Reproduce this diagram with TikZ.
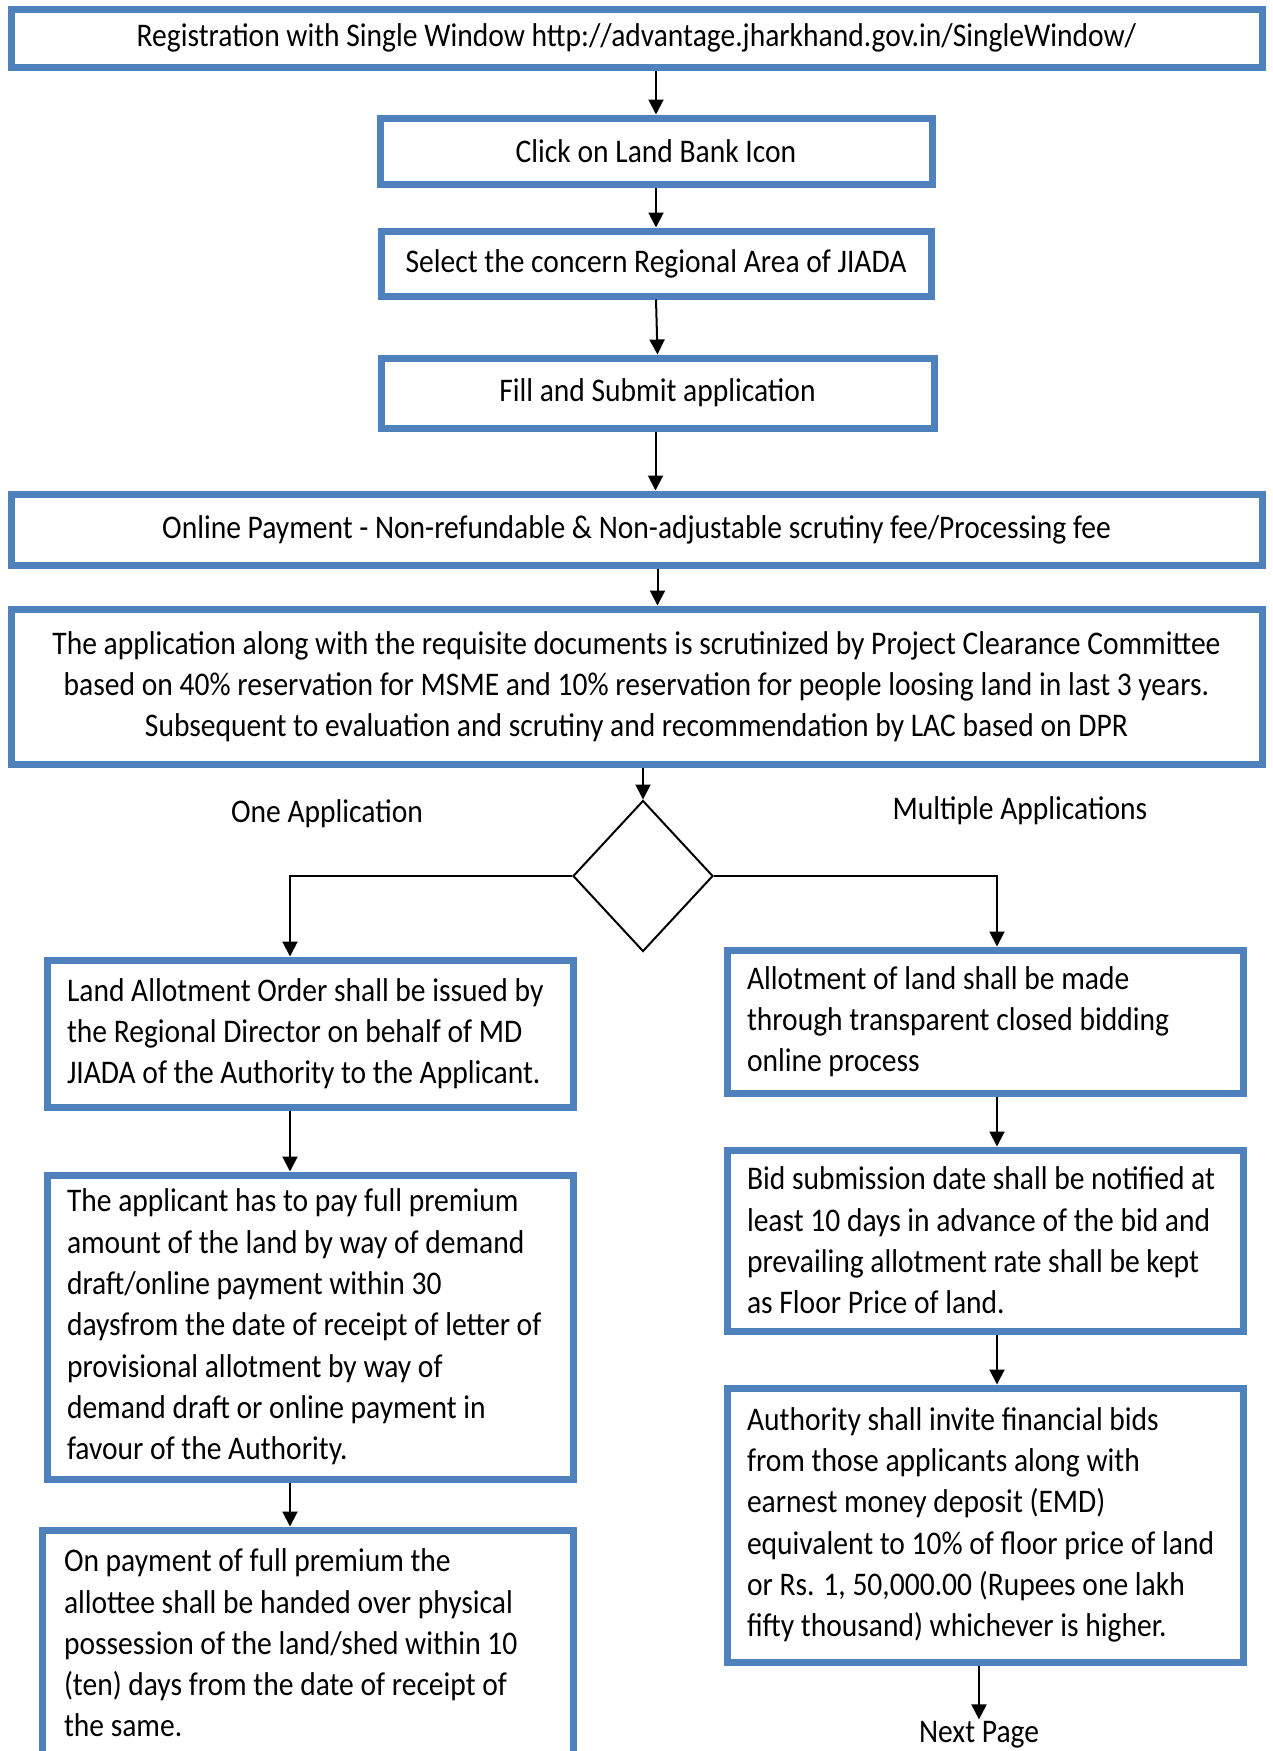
\documentclass[tikz,border=0pt]{standalone}
\usepackage{fontspec}
\setmainfont{Carlito}[FakeStretch=0.895]
\usepackage{tikz}
\usetikzlibrary{shapes, arrows.meta, positioning}
\usepackage{xcolor}
\definecolor{boxblue}{HTML}{4F81BD}

\begin{document}
\begin{tikzpicture}[x=1pt, y=-1pt]
        % Define block styles
        \tikzstyle{flowtext} = [font=\fontsize{33}{41.3}\selectfont]
        \tikzstyle{widebox} = [rectangle, draw=boxblue, line width=7pt, flowtext, align=center, inner sep=0pt]
        \tikzstyle{sidebox} = [rectangle, draw=boxblue, line width=7pt, flowtext, align=flush left, inner xsep=20pt, inner ysep=0pt]
        \tikzstyle{decision} = [diamond, draw, line width=2pt, inner sep=0pt, minimum width=140pt, minimum height=151pt]
        \tikzstyle{line} = [draw, line width=2pt, -{Triangle[length=15pt, width=15pt]}]

        \clip (0,0) rectangle (1272,1751);

        % Define nodes
        \node [widebox, minimum width=1251pt, minimum height=58pt] (Reg) at (636.5,38) {Registration with Single Window http://advantage.jharkhand.gov.in/SingleWindow/};
        \node [widebox, minimum width=552pt, minimum height=66pt] (Click) at (656,151) {Click on Land Bank Icon};
        \node [widebox, minimum width=550pt, minimum height=65pt] (Sel) at (656,263.5) {Select the concern Regional Area of JIADA};
        \node [widebox, minimum width=553pt, minimum height=70pt] (Fill) at (657.5,393) {Fill and Submit application};
        \node [widebox, minimum width=1251pt, minimum height=71pt] (Pay) at (636.5,529.5) {Online Payment - Non-refundable \& Non-adjustable scrutiny fee/Processing fee};
        \node [widebox, minimum width=1251pt, minimum height=155pt] (Scr) at (636.5,686.5) {The application along with the requisite documents is scrutinized by Project Clearance Committee\\ based on 40\% reservation for MSME and 10\% reservation for people loosing land in last 3 years.\\ Subsequent to evaluation and scrutiny and recommendation by LAC based on DPR};
        \node [decision] (Dec) at (643,876) {};
        \node [flowtext] (One) at (327,814) {One Application};
        \node [flowtext] (Multi) at (1020,811) {Multiple Applications};

        \node [sidebox, text width=486pt, minimum height=147pt] (LAO) at (310,1033.5) {Land Allotment Order shall be issued by\\ the Regional Director on behalf of MD\\ JIADA of the Authority to the Applicant.};
        \node [sidebox, text width=486pt, minimum height=304pt] (Prem) at (310,1327) {The applicant has to pay full premium\\ amount of the land by way of demand\\ draft/online payment within 30\\ daysfrom the date of receipt of letter of\\ provisional allotment by way of\\ demand draft or online payment in\\ favour of the Authority.};
        \node [sidebox, inner xsep=22pt, text width=487pt, minimum height=226pt] (Poss) at (307.5,1643) {On payment of full premium the\\ allottee shall be handed over physical\\ possession of the land/shed within 10\\ (ten) days from the date of receipt of\\ the same.};

        \node [sidebox, text width=476pt, minimum height=143pt] (Bid) at (985,1021.5) {Allotment of land shall be made\\ through transparent closed bidding\\ online process};
        \node [sidebox, text width=476pt, minimum height=181pt] (Date) at (985,1240.5) {Bid submission date shall be notified at\\ least 10 days in advance of the bid and\\ prevailing allotment rate shall be kept\\ as Floor Price of land.};
        \node [sidebox, text width=476pt, minimum height=274pt] (Inv) at (985,1525) {Authority shall invite financial bids\\ from those applicants along with\\ earnest money deposit (EMD)\\ equivalent to 10\% of floor price of land\\ or Rs. 1, 50,000.00 (Rupees one lakh\\ fifty thousand) whichever is higher.};
        \node [flowtext, inner sep=2pt] (Next) at (979,1735) {Next Page};

        % Connect nodes with paths
        \path [line] (Reg.south -| Click.north) -- (Click.north);
        \path [line] (Click.south) -- (Sel.north);
        \path [line] (Sel.south) -- (Fill.north);
        \path [line] (Fill.south -| Pay.north) ++(19pt,0) -- ([xshift=19pt]Pay.north);
        \path [line] (Pay.south -| Fill.south) -- (Scr.north -| Fill.south);
        \path [line] (Scr.south -| Dec.north) -- (Dec.north);
        \path [line] (Dec.west) -| ([xshift=-20pt]LAO.north);
        \path [line] (Dec.east) -| ([xshift=12pt]Bid.north);
        \path [line] ([xshift=-20pt]LAO.south) -- ([xshift=-20pt]Prem.north);
        \path [line] ([xshift=-20pt]Prem.south) -- ([xshift=-17.5pt]Poss.north);
        \path [line] ([xshift=12pt]Bid.south) -- ([xshift=12pt]Date.north);
        \path [line] ([xshift=12pt]Date.south) -- ([xshift=12pt]Inv.north);
        \path [line] (Inv.south -| Next.north) -- (Next.north);

\end{tikzpicture}
\end{document}
